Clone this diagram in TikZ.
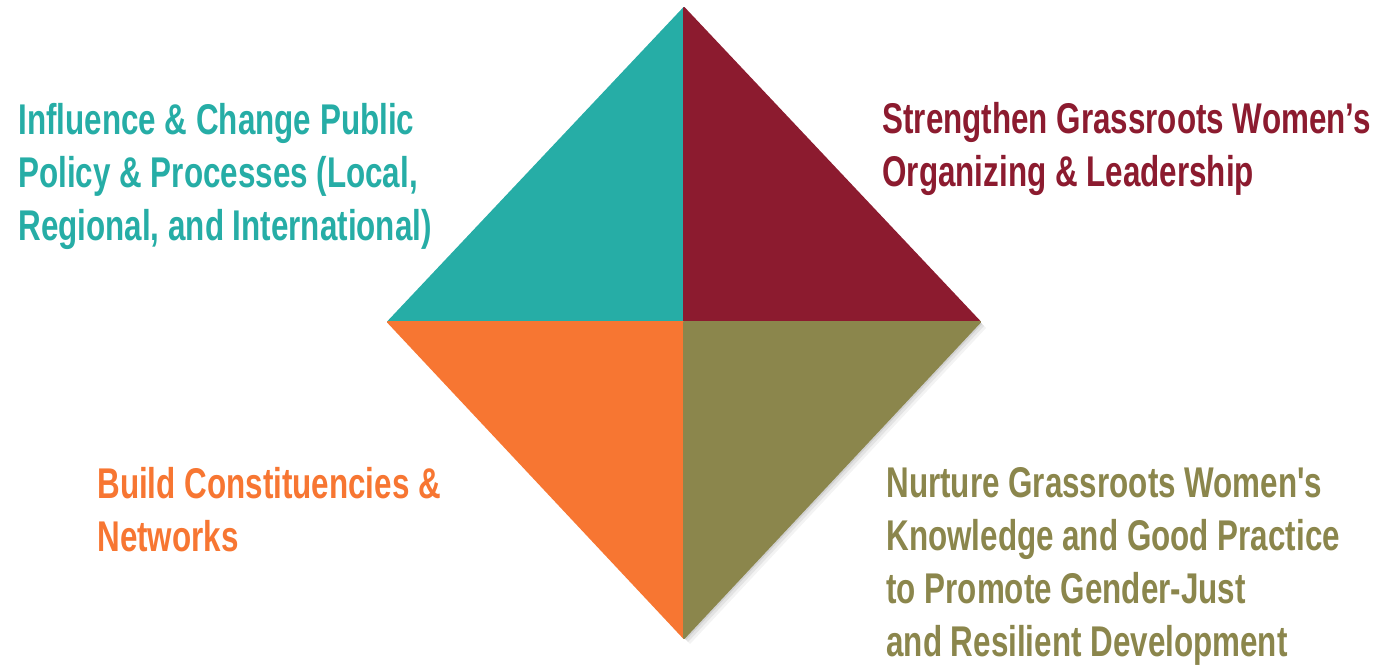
\documentclass[tikz,border=0pt]{standalone}
\usepackage{fontspec}
\newfontfamily\goalfont{Liberation Sans}[FakeStretch=0.73]
\usepackage{tikz}
\usetikzlibrary{positioning}

\definecolor{teal}{HTML}{26ADA6}
\definecolor{wine}{HTML}{8C1B2F}
\definecolor{tangerine}{HTML}{F77632}
\definecolor{olive}{HTML}{8B864C}

\begin{document}
\begin{tikzpicture}[
  x=0.5pt, y=-0.5pt,
  line join=round
]
  \tikzstyle{goal}=[anchor=base west,align=left,inner sep=0pt,
    font=\goalfont\bfseries\fontsize{21.5}{26.5}\selectfont]
  \tikzstyle{wedge}=[draw=#1,line width=1pt,fill=#1]

  \useasboundingbox (0,0) rectangle (1374,669);

  % Corners of the diamond
  \coordinate (T) at (684,8);
  \coordinate (L) at (388,322);
  \coordinate (R) at (980,322);
  \coordinate (B) at (684,638);
  \coordinate (C) at (684,322);

  % Soft shadow
  \foreach \s/\o in {6/0.12,4/0.18,2/0.25}
    \fill[black!40,opacity=\o] ([shift={(\s,\s)}]T) -- ([shift={(\s,\s)}]R)
      -- ([shift={(\s,\s)}]B) -- ([shift={(\s,\s)}]L) -- cycle;

  % Quadrants
  \filldraw[wedge=teal]      (C) -- (L) -- (T) -- cycle;
  \filldraw[wedge=wine]      (C) -- (T) -- (R) -- cycle;
  \filldraw[wedge=tangerine] (C) -- (B) -- (L) -- cycle;
  \filldraw[wedge=olive]     (C) -- (R) -- (B) -- cycle;

  % Goals (anchored at the baseline of the last line)
  \node[goal,text=teal]      (policy) at (18,240)
    {Influence \& Change Public\\Policy \& Processes (Local,\\Regional, and International)};
  \node[goal,text=wine]      (leader) at (882,186)
    {Strengthen Grassroots Women’s\\Organizing \& Leadership};
  \node[goal,text=tangerine] (network) at (97,551)
    {Build Constituencies \&\\Networks};
  \node[goal,text=olive]     (knowledge) at (886,656)
    {Nurture Grassroots Women's\\Knowledge and Good Practice\\to Promote Gender-Just\\and Resilient Development};
\end{tikzpicture}
\end{document}
